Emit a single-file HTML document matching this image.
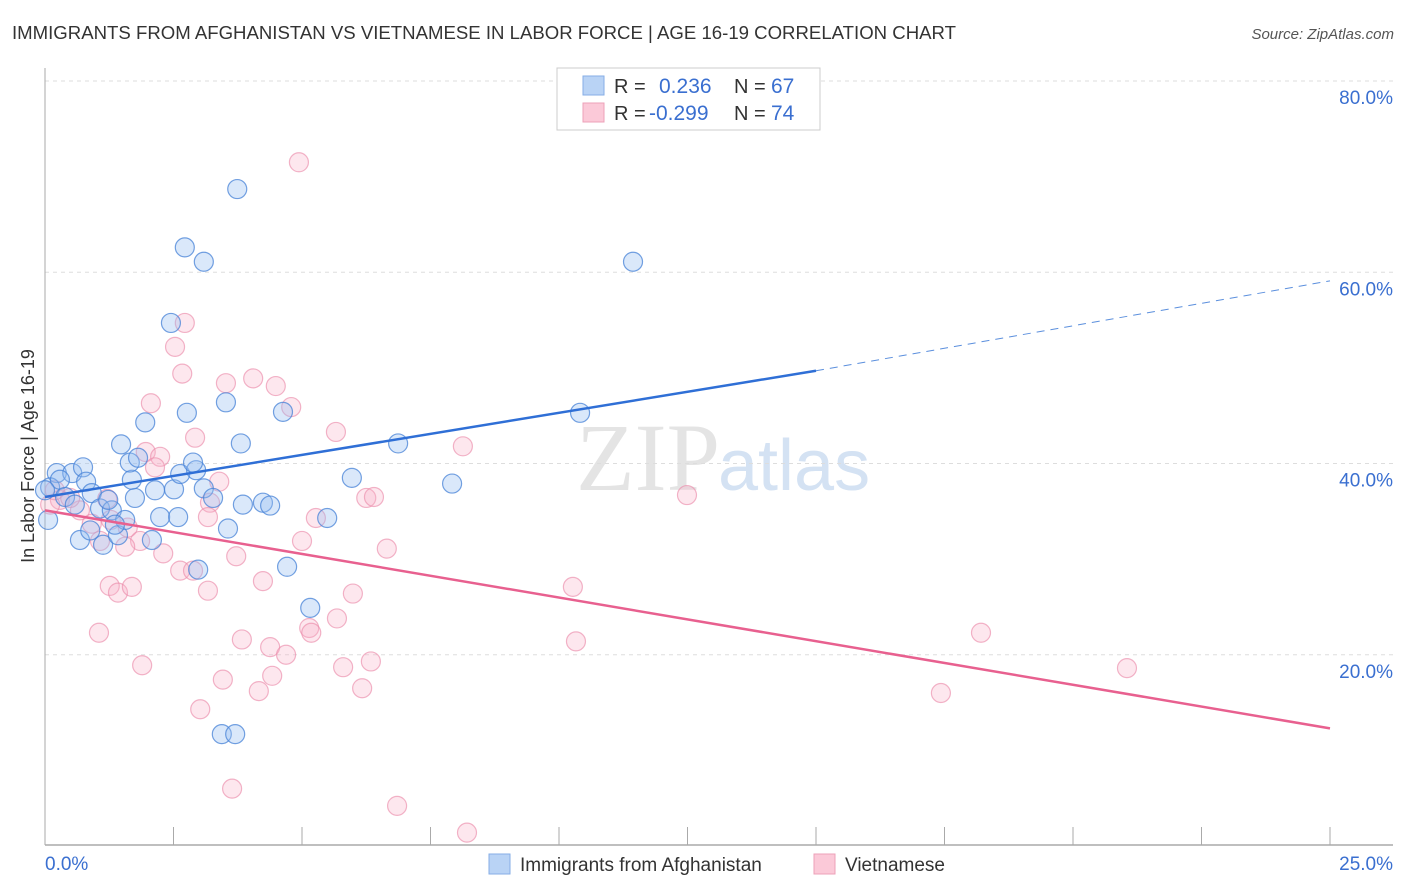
<!DOCTYPE html>
<html><head><meta charset="utf-8"><style>
body{margin:0;background:#fff;font-family:"Liberation Sans",sans-serif;}
svg{display:block}
</style></head><body>
<svg id="chart" width="1406" height="892" xmlns="http://www.w3.org/2000/svg">
<text x="12" y="39" font-size="18.6" fill="#333">IMMIGRANTS FROM AFGHANISTAN VS VIETNAMESE IN LABOR FORCE | AGE 16-19 CORRELATION CHART</text>
<text x="1394" y="39" font-size="15" fill="#555" font-style="italic" text-anchor="end">Source: ZipAtlas.com</text>
<text x="720" y="490" font-size="96" fill="#e4e4e4" text-anchor="end" font-family="Liberation Serif">ZIP</text>
<text x="718" y="490" font-size="72" fill="#d4e2f3">atlas</text>
<g id="grid"></g>
<g id="axes"></g>
<g id="pts"></g>
<g id="lines"></g>
<text transform="translate(34,456) rotate(-90)" font-size="18" fill="#333" text-anchor="middle">In Labor Force | Age 16-19</text>
<g>
<rect x="557" y="68" width="263" height="62" fill="#fff" stroke="#ccc"/>
<rect x="583" y="76" width="21" height="19" fill="#b9d3f5" stroke="#86aee6"/>
<rect x="583" y="103" width="21" height="19" fill="#fbc9d8" stroke="#eca1b8"/>
<text x="614" y="93" font-size="20" fill="#333">R =</text>
<text x="659" y="93" font-size="21" fill="#3a6fd0">0.236</text>
<text x="734" y="93" font-size="20" fill="#333">N =</text>
<text x="771" y="93" font-size="21" fill="#3a6fd0">67</text>
<text x="614" y="120" font-size="20" fill="#333">R =</text>
<text x="649" y="120" font-size="21" fill="#3a6fd0">-0.299</text>
<text x="734" y="120" font-size="20" fill="#333">N =</text>
<text x="771" y="120" font-size="21" fill="#3a6fd0">74</text>
</g>
<g>
<rect x="489" y="854" width="21" height="20" fill="#b9d3f5" stroke="#86aee6"/>
<text x="520" y="871" font-size="19" fill="#333">Immigrants from Afghanistan</text>
<rect x="814" y="854" width="21" height="20" fill="#fbc9d8" stroke="#eca1b8"/>
<text x="845" y="871" font-size="19" fill="#333">Vietnamese</text>
</g>
</svg>
<script>
const yTicks=[20,40,60,80];
const yTickLabels=["20.0%","40.0%","60.0%","80.0%"];
const xTicks=[0,2.5,5,7.5,10,12.5,15,17.5,20,22.5,25];
const blueX=[0.23,0.53,0.74,0.10,0.29,0.39,0.58,0.80,0.91,1.07,1.30,1.23,0.68,1.13,1.42,1.56,1.75,1.69,1.65,1.81,1.48,1.95,2.14,2.24,2.08,2.51,2.59,2.63,2.76,2.94,2.88,3.09,3.27,3.56,3.52,3.81,3.85,4.24,4.38,4.63,4.71,5.16,5.49,5.97,6.87,7.92,10.41,2.45,2.72,3.09,3.74,11.44,3.44,3.70,2.98,1.36,0.88,0.06,0.0];
const blueY=[39.0,39.0,39.6,37.5,38.3,36.5,35.7,38.1,36.9,35.3,35.1,36.2,32.0,31.5,32.5,34.1,36.4,38.3,40.1,40.6,42.0,44.3,37.2,34.4,32.0,37.3,34.4,38.9,45.3,39.3,40.1,37.4,36.4,33.2,46.4,42.1,35.7,35.9,35.6,45.4,29.2,24.9,34.3,38.5,42.1,37.9,45.3,54.7,62.6,61.1,68.7,61.1,11.7,11.7,28.9,33.6,33.0,34.1,37.2];
const pinkX=[4.94,2.72,2.53,2.67,3.52,4.05,4.49,4.79,2.06,1.96,2.24,2.92,2.14,3.39,3.21,3.17,1.21,1.61,1.28,0.91,0.68,0.29,0.10,0.19,0.49,1.85,1.56,2.30,1.07,1.26,1.42,1.69,1.05,1.89,2.63,2.88,3.17,3.72,4.24,3.83,4.38,4.69,5.00,5.14,5.18,5.27,5.66,6.25,6.40,6.65,5.99,5.68,5.80,6.34,6.17,4.42,4.16,3.46,3.02,3.64,6.85,8.21,8.13,10.27,10.33,12.49,18.21,17.43,21.05];
const pinkY=[71.5,54.7,52.2,49.4,48.4,48.9,48.1,45.9,46.3,41.2,40.7,42.7,39.6,38.1,35.9,34.4,36.3,33.3,34.1,33.7,35.1,36.2,35.7,37.2,36.4,31.9,31.3,30.6,31.9,27.2,26.5,27.1,22.3,18.9,28.8,28.8,26.7,30.3,27.7,21.6,20.8,20.0,31.9,22.8,22.3,34.3,43.3,36.4,36.5,31.1,26.4,23.8,18.7,19.3,16.5,17.8,16.2,17.4,14.3,6.0,4.2,1.4,41.8,27.1,21.4,36.7,22.3,16.0,18.6];
const blueTrend=[36.5,49.7,59.1];
const blueTrendX=[0,15,25];
const pinkTrend=[35.1,12.3];
const pinkTrendX=[0,25];

const NS="http://www.w3.org/2000/svg";
const sx=v=>45+v/25*1285;
const sy=v=>846-v*9.5625;
function mk(tag,attrs,parent){const e=document.createElementNS(NS,tag);for(const k in attrs)e.setAttribute(k,attrs[k]);document.getElementById(parent).appendChild(e);return e;}
yTicks.forEach((t,i)=>{
  const g=mk('line',{x1:45,x2:1393,y1:sy(t),y2:sy(t),stroke:'#ddd','stroke-dasharray':'4 4'},'grid');
  
  
  const l=mk('text',{x:1393,y:sy(t)+23,'font-size':19,fill:'#3a6fd0','text-anchor':'end'},'grid');
  l.textContent=yTickLabels[i];
  
  
});
const ax=mk('line',{x1:45,x2:1393,y1:845,y2:845,stroke:'#aaa','stroke-width':1.5},'axes');


const ay=mk('line',{x1:45,x2:45,y1:68,y2:845,stroke:'#aaa','stroke-width':1},'axes');


xTicks.forEach(t=>{
  const k=mk('line',{x1:sx(t),x2:sx(t),y1:827,y2:845,stroke:'#aaa'},'axes');
  
  
});
const x0=mk('text',{x:45,y:870,'font-size':19,fill:'#3a6fd0'},'axes');x0.textContent='0.0%';


const x1=mk('text',{x:1393,y:870,'font-size':19,fill:'#3a6fd0','text-anchor':'end'},'axes');x1.textContent='25.0%';


pinkX.forEach((x,i)=>{
  const c=mk('circle',{cx:sx(x),cy:sy(pinkY[i]),r:9.5,fill:'rgba(248,175,198,0.3)',stroke:'rgba(235,140,170,0.65)','stroke-width':1.2},'pts');
  
  
});
blueX.forEach((x,i)=>{
  const c=mk('circle',{cx:sx(x),cy:sy(blueY[i]),r:9.5,fill:'rgba(150,190,240,0.35)',stroke:'rgba(70,130,215,0.75)','stroke-width':1.2},'pts');
  
  
});
const bl=mk('line',{x1:sx(blueTrendX[0]),y1:sy(blueTrend[0]),x2:sx(blueTrendX[1]),y2:sy(blueTrend[1]),stroke:'#2f6fd6','stroke-width':2.5},'lines');


const bd=mk('line',{x1:sx(blueTrendX[1]),y1:sy(blueTrend[1]),x2:sx(blueTrendX[2]),y2:sy(blueTrend[2]),stroke:'#5b8fdd','stroke-width':1,'stroke-dasharray':'8 6'},'lines');


const pl=mk('line',{x1:sx(pinkTrendX[0]),y1:sy(pinkTrend[0]),x2:sx(pinkTrendX[1]),y2:sy(pinkTrend[1]),stroke:'#e8608f','stroke-width':2.5},'lines');


</script>
</body></html>
